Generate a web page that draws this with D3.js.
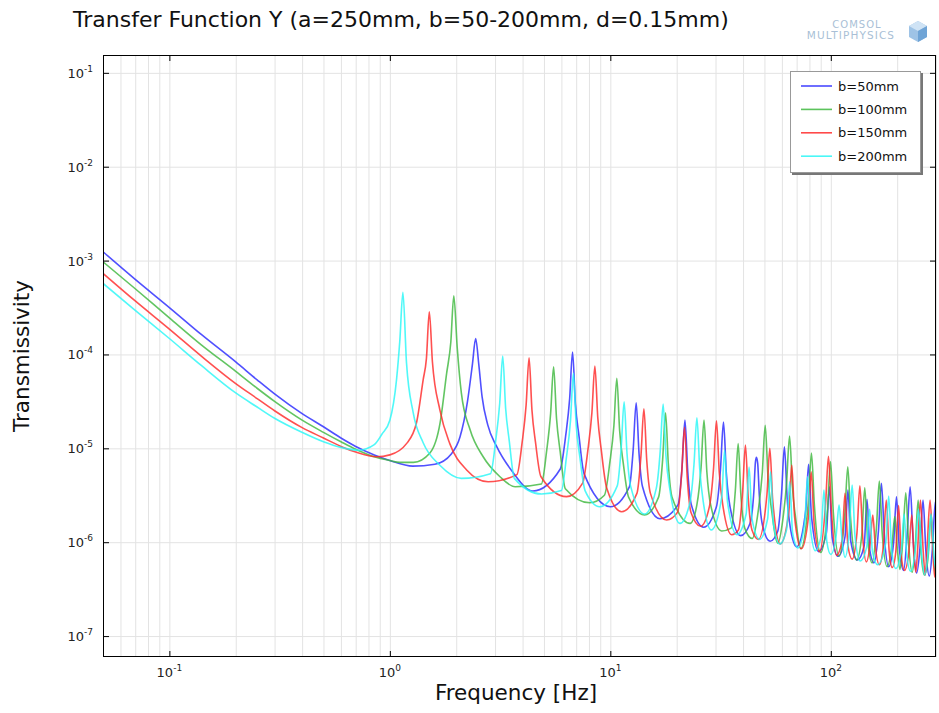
<!DOCTYPE html>
<html><head><meta charset="utf-8">
<script src="https://cdn.jsdelivr.net/npm/d3@7"></script>
<style>body{margin:0;background:#fff}</style>
</head><body>
<svg id="chart" width="939" height="713"></svg>
<script>
// ---- data (frequency in Hz, log10 of transmissivity) ----
const seriesNames = ["b=50mm", "b=100mm", "b=150mm", "b=200mm"];
const seriesColors = ["#2a2aff", "#3fb83f", "#ff2a2a", "#2af6f6"];

const blueData = [[0.05,-2.906],[0.07,-3.20],[0.1,-3.50],[0.14,-3.79],[0.2,-4.08],[0.25,-4.27],[0.3,-4.42],[0.4,-4.63],[0.5,-4.77],[0.6,-4.89],[0.7,-4.98],[0.85,-5.07],[1.0,-5.13],[1.27,-5.19],[1.6,-5.17],[1.9,-5.06],[2.08,-4.88],[2.25,-4.50],[2.37,-4.10],[2.45,-3.83],[2.53,-4.10],[2.62,-4.45],[2.78,-4.75],[3.05,-4.98],[3.6,-5.25],[4.45,-5.455],
[5.93,-5.22],[6.27,-4.87],[6.54,-4.47],[6.74,-3.974],[6.94,-4.52],[7.21,-4.87],[7.6,-5.27],[10.0,-5.622],
[12.2,-5.41],[12.7,-5.01],[13.1,-4.514],[13.5,-5.06],[14.0,-5.41],[16.8,-5.75],
[20.3,-5.6],[21.15,-5.2],[21.8,-4.699],[22.45,-5.25],[23.3,-5.6],[26.5,-5.84],
[30.3,-5.62],[31.6,-5.22],[32.6,-4.72],[33.6,-5.27],[34.9,-5.62],[39.0,-5.93],
[43.0,-5.8],[44.8,-5.45],[45.5,-5.15],[46.0,-5.096],[46.6,-5.16],[47.4,-5.5],[49.0,-5.82],[53.0,-5.99],
[57.5,-5.88],[59.8,-5.48],[61.6,-4.983],[63.4,-5.53],[65.9,-5.88],[70.0,-6.05],
[76.9,-5.67],[79.3,-5.17],[81.7,-5.72],[88,-6.10],
[95.5,-5.9],[98.5,-5.41],[101.5,-5.95],[108,-6.15],
[116,-5.94],[119.6,-5.444],[123.2,-5.99],[132,-6.19],
[141.6,-6.04],[146,-5.543],[150.4,-6.09],[157,-6.22],
[164.6,-5.87],[169.7,-5.373],[174.8,-5.92],[183,-6.26],
[192.6,-6.01],[198.6,-5.515],[204.6,-6.07],[214,-6.30],
[222,-5.91],[229,-5.409],[236,-5.96],[245,-6.33],
[254,-6.05],[262,-5.55],[270,-6.1],[280,-6.36],
[289,-6.07],[298,-5.57],[300,-5.7]];

const greenData = [[0.05,-3.013],[0.07,-3.30],[0.1,-3.61],[0.14,-3.90],[0.2,-4.18],[0.25,-4.36],[0.3,-4.50],[0.4,-4.70],[0.5,-4.83],[0.6,-4.93],[0.7,-5.01],[0.85,-5.09],[1.0,-5.13],[1.11,-5.15],[1.28,-5.15],[1.52,-5.05],[1.69,-4.73],[1.81,-4.20],[1.89,-3.87],[1.95,-3.375],[2.02,-3.92],[2.11,-4.41],[2.31,-4.80],[2.65,-5.09],[3.15,-5.30],[3.7,-5.41],
[4.87,-5.38],[5.14,-5.03],[5.36,-4.63],[5.53,-4.131],[5.70,-4.68],[5.92,-5.03],[6.25,-5.43],[8.07,-5.58],
[9.4,-5.5],[9.95,-5.15],[10.38,-4.76],[10.7,-4.255],[11.02,-4.81],[11.45,-5.16],[12.1,-5.52],[14.3,-5.71],
[16.55,-5.52],[17.27,-5.12],[17.8,-4.621],[18.33,-5.17],[19.05,-5.52],[23.0,-5.80],
[24.7,-5.6],[25.8,-5.2],[26.6,-4.699],[27.4,-5.25],[28.5,-5.6],[32.0,-5.88],
[35.3,-5.85],[36.9,-5.45],[38.0,-4.95],[39.1,-5.5],[40.7,-5.85],[44,-5.96],
[46.9,-5.66],[48.9,-5.26],[50.4,-4.755],[51.9,-5.31],[53.9,-5.66],[57.5,-6.01],
[60.5,-5.77],[63.0,-5.37],[65.0,-4.869],[67.0,-5.42],[69.5,-5.77],[73,-6.07],
[79.2,-5.55],[81.7,-5.05],[84.2,-5.6],[90,-6.11],
[96.7,-5.64],[99.7,-5.142],[102.7,-5.69],[109,-6.15],
[115.8,-5.7],[119.4,-5.196],[123,-5.75],[131,-6.19],
[138.3,-5.92],[142.6,-5.42],[146.9,-5.97],[154,-6.22],
[161,-5.85],[166,-5.348],[171,-5.9],[180,-6.26],
[190,-6.0],[195,-5.728],[200,-6.05],[206,-6.29],
[212.2,-5.97],[218.8,-5.473],[225.4,-6.02],[234,-6.32],
[241.5,-6.05],[249,-5.55],[256.5,-6.1],[266,-6.35],
[276.5,-6.15],[285,-5.7],[293.5,-6.2],[300,-6.37]];

const redData = [[0.05,-3.136],[0.07,-3.43],[0.1,-3.73],[0.14,-4.02],[0.2,-4.31],[0.25,-4.47],[0.3,-4.60],[0.4,-4.78],[0.5,-4.89],[0.6,-4.98],[0.7,-5.04],[0.87,-5.09],[1.0,-5.07],[1.19,-4.95],[1.32,-4.73],[1.416,-4.27],[1.465,-4.045],[1.51,-3.545],[1.56,-4.08],[1.686,-4.59],[1.87,-4.95],[2.23,-5.23],[2.79,-5.356],
[3.77,-5.28],[3.98,-4.94],[4.15,-4.54],[4.28,-4.035],[4.41,-4.59],[4.58,-4.94],[4.84,-5.3],[6.33,-5.515],
[7.49,-5.37],[7.91,-5.02],[8.25,-4.62],[8.51,-4.124],[8.77,-4.67],[9.1,-5.02],[9.62,-5.42],[11.26,-5.675],
[13.2,-5.48],[13.77,-5.08],[14.2,-4.578],[14.63,-5.13],[15.2,-5.48],[18.0,-5.764],
[20.2,-5.68],[21.05,-5.28],[21.7,-4.776],[22.35,-5.33],[23.2,-5.68],[25.7,-5.83],
[28.2,-5.61],[29.4,-5.21],[30.3,-4.706],[31.2,-5.26],[32.4,-5.61],[35.5,-5.92],
[38.1,-5.87],[39.8,-5.47],[41.0,-4.965],[42.2,-5.52],[43.9,-5.87],[47,-5.97],
[51.3,-5.5],[52.9,-5.0],[54.5,-5.55],[59,-6.02],
[64.5,-5.68],[66.5,-5.178],[68.5,-5.73],[73.5,-6.07],
[79,-5.75],[81.5,-5.25],[84,-5.8],[89,-6.10],
[94.7,-5.59],[97.6,-5.085],[100.5,-5.64],[106,-6.14],
[112.5,-5.98],[116,-5.48],[119.5,-6.03],[125,-6.18],
[131.4,-5.9],[135.5,-5.40],[139.6,-5.95],[145,-6.21],
[151,-6.0],[155,-5.71],[159,-6.03],[166,-6.24],
[173,-6.05],[178.5,-5.55],[184,-6.1],[190,-6.27],
[197,-6.11],[203,-5.61],[209,-6.16],[216,-6.30],
[226,-6.1],[233,-5.71],[238,-6.12],[243,-6.32],
[248,-6.05],[255,-5.55],[262.5,-6.1],[268,-6.35],
[273.5,-6.05],[282,-5.55],[290.5,-6.1],[296,-6.37],[300,-6.36]];

const cyanData = [[0.05,-3.243],[0.07,-3.53],[0.1,-3.83],[0.14,-4.12],[0.2,-4.41],[0.25,-4.56],[0.3,-4.68],[0.4,-4.83],[0.5,-4.93],[0.6,-4.99],[0.72,-5.02],[0.85,-4.96],[0.92,-4.85],[1.0,-4.70],[1.072,-4.27],[1.11,-3.85],[1.146,-3.339],[1.19,-4.09],[1.276,-4.62],[1.416,-4.94],[1.686,-5.18],[2.11,-5.32],
[2.86,-5.27],[3.02,-4.92],[3.15,-4.52],[3.25,-4.017],[3.35,-4.57],[3.48,-4.92],[3.67,-5.32],[4.87,-5.487],
[6.0,-5.45],[6.32,-5.10],[6.6,-4.70],[6.8,-4.20],[7.0,-4.75],[7.28,-5.10],[7.68,-5.45],[8.96,-5.622],
[10.75,-5.4],[11.2,-5.0],[11.55,-4.504],[11.9,-5.05],[12.35,-5.4],[14.3,-5.70],
[16.15,-5.43],[16.84,-5.03],[17.36,-4.528],[17.88,-5.08],[18.6,-5.43],[20.7,-5.80],
[23.0,-5.57],[23.96,-5.17],[24.7,-4.674],[25.44,-5.22],[26.4,-5.57],[28.7,-5.87],
[32.0,-5.52],[33,-5.02],[34.0,-5.57],[37.5,-5.92],
[41.3,-5.7],[42.6,-5.2],[43.9,-5.75],[47.5,-5.97],
[51.7,-5.75],[53.3,-5.25],[54.9,-5.8],[58.6,-6.02],
[63.1,-5.86],[65.1,-5.356],[67.1,-5.9],[71,-6.06],
[76.1,-5.8],[78.5,-5.3],[80.9,-5.85],[85,-6.09],
[90.3,-5.94],[93.1,-5.444],[95.9,-5.99],[100,-6.13],
[105.5,-5.95],[109,-5.604],[112.5,-5.98],[116,-6.16],
[121.2,-5.89],[125,-5.39],[128.8,-5.94],[136,-6.20],
[145.5,-6.05],[150,-5.65],[154.5,-6.1],[163,-6.24],
[177.5,-6.01],[183,-5.508],[188.5,-6.06],[197,-6.28],
[208.5,-6.1],[215,-5.7],[221.5,-6.15],[230,-6.31],
[242.5,-6.05],[250,-5.65],[257.5,-6.1],[267,-6.35],
[276.5,-6.1],[285,-5.7],[293.5,-6.15],[300,-6.3]];

const xTickExps = [-1, 0, 1, 2];
const yTickExps = [-7, -6, -5, -4, -3, -2, -1];
const titleText = "Transfer Function Y (a=250mm, b=50-200mm, d=0.15mm)";
const xLabel = "Frequency [Hz]";
const yLabel = "Transmissivity";

// ---- layout ----
const L = 103, R = 936, T = 55, B = 657;
const svg = d3.select("#chart");
svg.append("rect").attr("width", 939).attr("height", 713).attr("fill", "#fff");

const x = d3.scaleLog().domain([0.05, 300]).range([L, R]);
const y = d3.scaleLog().domain([Math.pow(10, -7.223), Math.pow(10, -0.81)]).range([B, T]);

const font = "'DejaVu Sans', sans-serif";

// grid
svg.append("g").attr("transform", `translate(0,${B})`)
  .call(d3.axisBottom(x).tickValues(x.ticks()).tickSize(-(B - T)).tickFormat(""))
  .call(g => g.select(".domain").remove())
  .call(g => g.selectAll("line").attr("stroke", "#e3e3e3").attr("stroke-width", 1));
const yMajor = yTickExps.map(e => Math.pow(10, e));
svg.append("g").attr("transform", `translate(${L},0)`)
  .call(d3.axisLeft(y).tickValues(yMajor).tickSize(-(R - L)).tickFormat(""))
  .call(g => g.select(".domain").remove())
  .call(g => g.selectAll("line").attr("stroke", "#e3e3e3").attr("stroke-width", 1));

// curves
svg.append("clipPath").attr("id", "clip").append("rect")
  .attr("x", L).attr("y", T).attr("width", R - L).attr("height", B - T);
const line = d3.line()
  .x(d => x(d[0]))
  .y(d => y(Math.pow(10, d[1])))
  .curve(d3.curveMonotoneX);
const allData = [blueData, greenData, redData, cyanData];
const gLines = svg.append("g").attr("clip-path", "url(#clip)");
allData.forEach((data, i) => {
  gLines.append("path").datum(data)
    .attr("d", line)
    .attr("fill", "none")
    .attr("stroke", seriesColors[i])
    .attr("stroke-opacity", 0.82)
    .attr("stroke-width", 1.6)
    .attr("stroke-linejoin", "round");
});

// frame and ticks
const xMajor = xTickExps.map(e => Math.pow(10, e));
function styleTicks(g) {
  g.select(".domain").remove();
  g.selectAll("line").attr("stroke", "#000");
}
svg.append("g").attr("transform", `translate(0,${B})`)
  .call(d3.axisBottom(x).tickValues(xMajor).tickSize(-6).tickFormat("")).call(styleTicks);
svg.append("g").attr("transform", `translate(0,${T})`)
  .call(d3.axisTop(x).tickValues(xMajor).tickSize(-6).tickFormat("")).call(styleTicks);
svg.append("g").attr("transform", `translate(${L},0)`)
  .call(d3.axisLeft(y).tickValues(yMajor).tickSize(-6).tickFormat("")).call(styleTicks);
svg.append("g").attr("transform", `translate(${R},0)`)
  .call(d3.axisRight(y).tickValues(yMajor).tickSize(-6).tickFormat("")).call(styleTicks);
svg.append("rect").attr("x", L + 0.5).attr("y", T + 0.5).attr("width", R - L - 1).attr("height", B - T - 1)
  .attr("fill", "none").attr("stroke", "#000").attr("stroke-width", 1);

// tick labels
xTickExps.forEach(e => {
  const t = svg.append("text").attr("x", x(Math.pow(10, e))).attr("y", B + 20)
    .attr("text-anchor", "middle").attr("font-family", font).attr("font-size", 13).attr("fill", "#222");
  t.append("tspan").text("10");
  t.append("tspan").attr("dy", -6).attr("font-size", 9).text(e);
});
yTickExps.forEach(e => {
  const t = svg.append("text").attr("x", L - 10).attr("y", y(Math.pow(10, e)) + 5)
    .attr("text-anchor", "end").attr("font-family", font).attr("font-size", 13).attr("fill", "#222");
  t.append("tspan").text("10");
  t.append("tspan").attr("dy", -6).attr("font-size", 9).text(e);
});

// axis labels and title
svg.append("text").attr("x", 516).attr("y", 700).attr("text-anchor", "middle")
  .attr("font-family", font).attr("font-size", 21.5).attr("fill", "#111").text(xLabel);
svg.append("text").attr("transform", `translate(29,356) rotate(-90)`).attr("text-anchor", "middle")
  .attr("font-family", font).attr("font-size", 21.5).attr("fill", "#111").text(yLabel);
svg.append("text").attr("x", 73).attr("y", 27).attr("font-family", font).attr("font-size", 22)
  .attr("fill", "#111").text(titleText);

// watermark
const wm = svg.append("g").attr("fill", "#a9bfd6").attr("font-family", font);
wm.append("text").attr("x", 857).attr("y", 28).attr("text-anchor", "middle").attr("font-size", 10)
  .attr("letter-spacing", 1).text("COMSOL");
wm.append("text").attr("x", 851).attr("y", 39).attr("text-anchor", "middle").attr("font-size", 10.5)
  .attr("letter-spacing", 1.1).text("MULTIPHYSICS");
const cube = svg.append("g").attr("transform", "translate(918,31)");
cube.append("polygon").attr("points", "0,-10 9,-5 9,6 0,11 -9,6 -9,-5").attr("fill", "#9ec3e6");
cube.append("polygon").attr("points", "0,-10 9,-5 0,0 -9,-5").attr("fill", "#cfe3f5");
cube.append("polygon").attr("points", "0,0 9,-5 9,6 0,11").attr("fill", "#6fa4d6");

// legend
const lg = svg.append("g");
lg.append("rect").attr("x", 792).attr("y", 73).attr("width", 131).attr("height", 102).attr("fill", "#777");
lg.append("rect").attr("x", 790.5).attr("y", 71.5).attr("width", 130).attr("height", 101)
  .attr("fill", "#fff").attr("stroke", "#999");
seriesNames.forEach((n, i) => {
  const yy = 86 + i * 23.4;
  lg.append("line").attr("x1", 801).attr("x2", 832).attr("y1", yy).attr("y2", yy)
    .attr("stroke", seriesColors[i]).attr("stroke-opacity", 0.85).attr("stroke-width", 1.6);
  lg.append("text").attr("x", 838).attr("y", yy + 4.5).attr("font-family", font).attr("font-size", 13)
    .attr("fill", "#111").text(n);
});
</script>
</body></html>
